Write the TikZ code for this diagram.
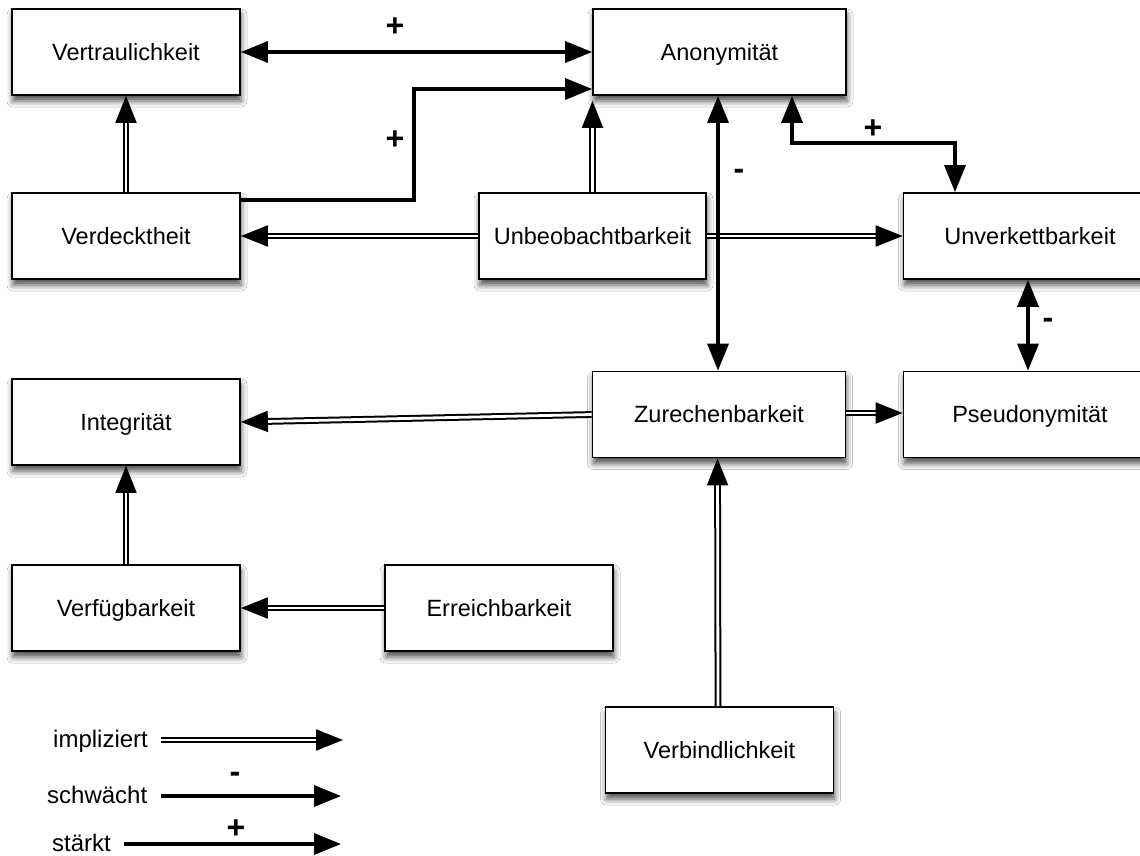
\documentclass[tikz,border=0pt]{standalone}
\usepackage{fontspec}
\setmainfont{Liberation Sans}
\usetikzlibrary{arrows.meta,shadows.blur,calc}
\begin{document}
\begin{tikzpicture}[x=1pt,y=-1pt,
  box/.style={draw=black, line width=1.8pt, fill=white, minimum height=86pt, inner sep=0pt,
    text height=17pt, text depth=1pt, font=\fontsize{23.5}{27}\selectfont,
    blur shadow={shadow xshift=1pt, shadow yshift=-6pt, shadow blur radius=6pt, shadow opacity=70}},
  narrow/.style={box, minimum width=228pt},
  wide/.style={box, minimum width=253pt},
  impl/.style={double=white, draw=black, line width=2pt, double distance=2.8pt, -{Triangle[length=27pt,width=21pt]}},
  eff/.style={line width=3.4pt, -{Triangle[length=27pt,width=21pt]}},
  effb/.style={line width=3.4pt, {Triangle[length=27pt,width=21pt]}-{Triangle[length=27pt,width=21pt]}},
  sign/.style={font=\fontsize{32}{33}\selectfont\bfseries, inner sep=0pt},
  legend/.style={font=\fontsize{24}{27}\selectfont, inner sep=0pt, anchor=base west}
]
\useasboundingbox (0,0) rectangle (1140,855);
\fill[white] (0,0) rectangle (1140,855);

% boxes
\node[narrow] (vt) at (126,52) {Vertraulichkeit};
\node[wide]   (an) at (719.5,52) {Anonymität};
\node[narrow] (vd) at (126,236) {Verdecktheit};
\node[narrow, minimum width=227pt] (ub) at (592.5,236) {Unbeobachtbarkeit};
\node[wide]   (uv) at (1030,236) {Unverkettbarkeit};
\node[narrow] (in) at (126,422) {Integrität};
\node[wide]   (zu) at (719,414.5) {Zurechenbarkeit};
\node[wide]   (ps) at (1030,414.5) {Pseudonymität};
\node[narrow] (vf) at (126,608) {Verfügbarkeit};
\node[narrow] (er) at (499,608) {Erreichbarkeit};
\node[narrow] (vb) at (719.5,750) {Verbindlichkeit};

% connectors
\draw[effb] (vt.east) -- (an.west);
\draw[eff] ([yshift=36pt]vd.east) -- ++(173,0) |- ([yshift=-37pt]an.west);
\draw[impl] (vd.north) -- (vt.south);
\draw[impl] (ub.north) -- ($(ub.north |- an.south)+(0,5)$);
\draw[impl] (ub.west) -- (vd.east);
\draw[impl] (ub.east) -- (uv.west);
\draw[effb] ([xshift=-1.5pt]an.south) -- ([xshift=-1pt]zu.north);
\draw[effb] ([xshift=72.5pt]an.south) -- ++(0,47) -| ([xshift=-75pt]uv.north);
\draw[effb] ([xshift=-2pt]uv.south) -- ([xshift=-2pt]ps.north);
\draw[impl] (zu.west) -- (in.east);
\draw[impl] ([yshift=1.5pt]zu.east) -- ([yshift=1.5pt]ps.west);
\draw[impl] (vf.north) -- (in.south);
\draw[impl] (er.west) -- (vf.east);
\draw[impl] ([xshift=-1.5pt]vb.north) -- ([xshift=-1.5pt]zu.south);

% signs
\node[sign] (s1) at (395,27) {+};
\node[sign] (s2) at (395,140) {+};
\node[sign] (s3) at (739,174) {-};
\node[sign] (s4) at (873,129) {+};
\node[sign] (s5) at (1048,323) {-};

% legend
\node[legend] (li) at (53,747) {impliziert};
\coordinate (le1) at (343,740);
\draw[impl] (li.east |- le1) ++(13,0) coordinate (ls1) (ls1) -- (le1);
\node[legend] (ls) at (47,803) {schwächt};
\coordinate (le2) at (341,796);
\draw[eff] (ls.east |- le2) ++(14,0) coordinate (ls2) (ls2) -- (le2);
\node[sign] (s6) at (235,777) {-};
\node[legend] (lk) at (52,851) {stärkt};
\coordinate (le3) at (341,844);
\draw[eff] (lk.east |- le3) ++(13,0) coordinate (ls3) (ls3) -- (le3);
\node[sign] (s7) at (236,829) {+};
\end{tikzpicture}
\end{document}
